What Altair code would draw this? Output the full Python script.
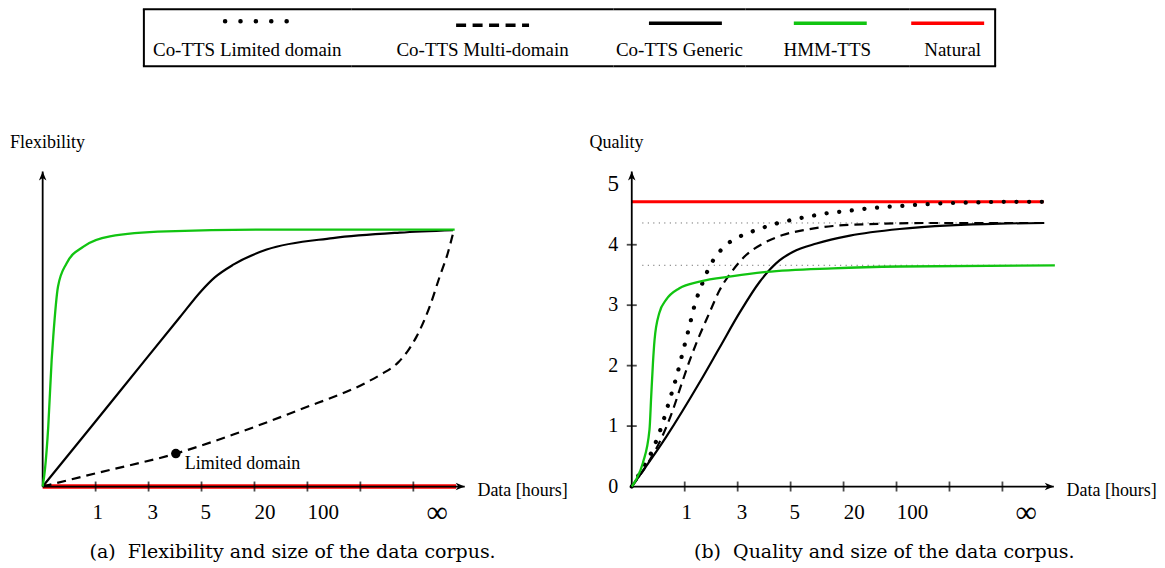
import altair as alt
import pandas as pd

# ------------------------------------------------------------------ data
LEGEND_LABELS = ["Co-TTS Limited domain", "Co-TTS Multi-domain", "Co-TTS Generic", "HMM-TTS", "Natural"]

X_TICKS = [1, 2, 3, 4, 5, 6, 7]
X_TICK_LABELS = ["1", "3", "5", "20", "100", "\u221e"]
X_TICK_LABEL_POS = [1.04, 2.08, 3.08, 4.2, 5.3, 7.45]
Q_TICKS = [1, 2, 3, 4]
Q_LABELS = [0, 1, 2, 3, 4, 5]

# (a) Flexibility panel
FLEX_HMM_U = [0, 0.043, 0.106, 0.17, 0.20, 0.29, 0.45, 0.77, 1.27, 2.34, 4.23, 7.78]
FLEX_HMM_Q = [0, 0.28, 1.0, 2.10, 2.48, 3.31, 3.69, 3.97, 4.14, 4.22, 4.25, 4.25]
FLEX_GEN_U = [0, 0.955, 1.96, 2.59, 3.0, 3.25, 3.60, 4.23, 5.48, 6.74, 7.75]
FLEX_GEN_Q = [0, 1.03, 2.12, 2.80, 3.24, 3.46, 3.67, 3.92, 4.11, 4.20, 4.24]
FLEX_MULTI_U = [0, 1.08, 2.515, 3.60, 4.85, 6.11, 6.4, 6.71, 6.9, 7.06, 7.31, 7.50, 7.65, 7.75]
FLEX_MULTI_Q = [0, 0.235, 0.545, 0.86, 1.27, 1.72, 1.86, 2.05, 2.25, 2.48, 2.98, 3.48, 3.86, 4.19]
FLEX_NAT_U = [0, 7.81]
FLEX_NAT_Q = [0, 0]
FLEX_POINT_U = [2.515]
FLEX_POINT_Q = [0.545]
FLEX_POINT_TEXT = ["Limited domain"]

# (b) Quality panel
QUAL_HMM_U = [0, 0.08, 0.21, 0.335, 0.367, 0.40, 0.43, 0.52, 0.65, 0.90, 1.28, 1.91, 2.54, 3.80, 5.06, 7.99]
QUAL_HMM_Q = [0, 0.11, 0.39, 0.94, 1.49, 2.04, 2.42, 2.87, 3.09, 3.28, 3.39, 3.48, 3.55, 3.61, 3.64, 3.66]
QUAL_LTD_U = [0, 0.15, 0.38, 0.555, 0.70, 0.84, 0.96, 1.08, 1.20, 1.28, 1.37, 1.47, 1.60, 1.76, 1.96,
              2.18, 2.41, 2.64, 2.87, 3.12, 3.36, 3.60, 4.08, 4.57, 5.06, 5.55, 6.04, 6.53, 7.01, 7.76]
QUAL_LTD_Q = [0, 0.22, 0.58, 0.975, 1.39, 1.80, 2.21, 2.62, 3.04, 3.24, 3.44, 3.64, 3.82, 3.98, 4.10,
              4.19, 4.26, 4.33, 4.38, 4.43, 4.47, 4.51, 4.56, 4.61, 4.64, 4.67, 4.69, 4.70, 4.71, 4.71]
QUAL_MULTI_U = [0, 0.3, 0.55, 0.75, 0.95, 1.10, 1.28, 1.47, 1.66, 1.91, 2.16, 2.48, 2.85, 3.30, 3.80, 4.43, 5.69, 7.77]
QUAL_MULTI_Q = [0, 0.38, 0.78, 1.20, 1.72, 2.10, 2.50, 2.88, 3.25, 3.58, 3.83, 4.02, 4.16, 4.25, 4.31, 4.34, 4.36, 4.36]
QUAL_GEN_U = [0, 0.65, 1.28, 1.66, 2.04, 2.41, 2.79, 3.04, 3.49, 4.12, 5.06, 6.01, 6.95, 7.79]
QUAL_GEN_Q = [0, 0.82, 1.72, 2.30, 2.88, 3.38, 3.74, 3.88, 4.02, 4.15, 4.26, 4.32, 4.35, 4.36]
QUAL_NAT_U = [0, 7.78]
QUAL_NAT_Q = [4.71, 4.71]
QUAL_GUIDE_Q = [4.36, 3.66]
QUAL_GUIDE_U0 = [0.2, 0.2]
QUAL_GUIDE_U1 = [7.78, 7.78]

AXIS_X_END = 7.97
AXIS_Q_END = 5.21

# ------------------------------------------------------------------ layout / style
SERIF = "Liberation Serif"
CAPTION_FONT = "DejaVu Serif"
GREEN = "#11c411"
RED = "#ff0000"

UX, UY = 53.0, 60.5
PANEL_H = 474
ORIGIN_FROM_BOTTOM = 73.3
LEFT_W, LEFT_ORIGIN = 580, 34.7
RIGHT_W, RIGHT_ORIGIN = 569, 44.3

Y_DOMAIN = [-ORIGIN_FROM_BOTTOM / UY, (PANEL_H - ORIGIN_FROM_BOTTOM) / UY]


def xdom(width, origin):
    return [-origin / UX, (width - origin) / UX]


def line_df(us, qs):
    return pd.DataFrame({"u": us, "q": qs})


def make_panel(width, origin, curves, extra_top, extra_bottom, title, caption, cap_u, show_q_axis):
    xs = alt.Scale(domain=xdom(width, origin), nice=False, zero=False)
    ys = alt.Scale(domain=Y_DOMAIN, nice=False, zero=False)
    X = lambda f="u": alt.X(f"{f}:Q", scale=xs, axis=None)
    Y = lambda f="q": alt.Y(f"{f}:Q", scale=ys, axis=None)

    layers = list(extra_bottom(X, Y))

    # axes
    ax_df = pd.DataFrame({"u": [0], "u1": [AXIS_X_END], "q": [0], "q1": [AXIS_Q_END]})
    layers.append(alt.Chart(ax_df).mark_rule(color="black", strokeWidth=1.8).encode(
        x=X(), x2=alt.X2("u1:Q"), y=Y()))
    layers.append(alt.Chart(ax_df).mark_rule(color="black", strokeWidth=1.8).encode(
        x=X(), y=Y(), y2=alt.Y2("q1:Q")))
    layers.append(alt.Chart(ax_df).mark_point(
        shape="M0,0L-1,-0.42L-0.72,0L-1,0.42Z", size=324, filled=True, color="black", opacity=1,
        strokeWidth=0).encode(x=X("u1"), y=Y()))
    layers.append(alt.Chart(ax_df).mark_point(
        shape="M0,0L-0.42,1L0,0.72L0.42,1Z", size=324, filled=True, color="black", opacity=1,
        strokeWidth=0).encode(x=X(), y=Y("q1")))

    # x ticks and labels
    layers.append(alt.Chart(pd.DataFrame({"u": X_TICKS, "q": 0})).mark_tick(
        orient="vertical", size=10, thickness=1.8, color="black").encode(x=X(), y=Y()))
    lab_df = pd.DataFrame({"u": X_TICK_LABEL_POS, "q": -0.435, "label": X_TICK_LABELS})
    layers.append(alt.Chart(lab_df).mark_text(font=SERIF, align="center", baseline="middle",
                                              color="black").encode(
        x=X(), y=Y(), text="label:N",
        size=alt.condition("datum.label == '\u221e'", alt.value(30), alt.value(21))))

    if show_q_axis:
        layers.append(alt.Chart(pd.DataFrame({"u": 0, "q": Q_TICKS})).mark_tick(
            orient="horizontal", size=10, thickness=1.8, color="black").encode(x=X(), y=Y()))
        ql = pd.DataFrame({"u": -0.35, "q": Q_LABELS, "label": [str(v) for v in Q_LABELS]})
        layers.append(alt.Chart(ql).mark_text(font=SERIF, align="center", baseline="middle",
                                              color="black").encode(
            x=X(), y=Y(), text="label:N",
            size=alt.condition("datum.q == 5", alt.value(23), alt.value(20))))

    # curves
    for df, style in curves:
        layers.append(alt.Chart(df).mark_line(interpolate="monotone", **style).encode(x=X(), y=Y()))

    layers += list(extra_top(X, Y))

    # titles
    t_df = pd.DataFrame({"u": [-(origin - 2) / UX], "q": [5.68], "label": [title]})
    layers.append(alt.Chart(t_df).mark_text(font=SERIF, fontSize=18, align="left", baseline="middle",
                                            color="black").encode(x=X(), y=Y(), text="label:N"))
    d_df = pd.DataFrame({"u": [8.21], "q": [-0.07], "label": ["Data [hours]"]})
    layers.append(alt.Chart(d_df).mark_text(font=SERIF, fontSize=18, align="left", baseline="middle",
                                            color="black").encode(x=X(), y=Y(), text="label:N"))
    c_df = pd.DataFrame({"u": [cap_u], "q": [-1.09], "label": [caption]})
    layers.append(alt.Chart(c_df).mark_text(font=CAPTION_FONT, fontSize=19, align="center",
                                            baseline="middle", color="black").encode(
        x=X(), y=Y(), text="label:N"))

    return alt.layer(*layers).properties(width=width, height=PANEL_H)


SOLID = dict(color="black", strokeWidth=2.2)
DASHED = dict(color="black", strokeWidth=2.2, strokeDash=[9, 6])
DOTTED = dict(color="black", strokeWidth=4.2, strokeDash=[0.1, 12.6], strokeCap="round")
GREENS = dict(color=GREEN, strokeWidth=2.3)


def left_bottom(X, Y):
    return [alt.Chart(line_df(FLEX_NAT_U, FLEX_NAT_Q)).mark_line(color=RED, strokeWidth=4.5).encode(
        x=X(), y=Y())]


def left_top(X, Y):
    pdf = pd.DataFrame({"u": FLEX_POINT_U, "q": FLEX_POINT_Q, "label": FLEX_POINT_TEXT})
    return [
        alt.Chart(pdf).mark_point(shape="circle", size=90, filled=True, color="black", opacity=1).encode(
            x=X(), y=Y()),
        alt.Chart(pdf).mark_text(font=SERIF, fontSize=18, align="left", baseline="middle", dx=9, dy=10,
                                 color="black").encode(x=X(), y=Y(), text="label:N"),
    ]


def right_bottom(X, Y):
    gdf = pd.DataFrame({"u": QUAL_GUIDE_U0, "u1": QUAL_GUIDE_U1, "q": QUAL_GUIDE_Q})
    return [
        alt.Chart(gdf).mark_rule(color="#555555", strokeWidth=1, strokeDash=[1, 4.5]).encode(
            x=X(), x2=alt.X2("u1:Q"), y=Y()),
        alt.Chart(line_df(QUAL_NAT_U, QUAL_NAT_Q)).mark_line(color=RED, strokeWidth=3).encode(
            x=X(), y=Y()),
    ]


def no_layers(X, Y):
    return []


left = make_panel(
    LEFT_W, LEFT_ORIGIN,
    [(line_df(FLEX_GEN_U, FLEX_GEN_Q), SOLID),
     (line_df(FLEX_MULTI_U, FLEX_MULTI_Q), DASHED),
     (line_df(FLEX_HMM_U, FLEX_HMM_Q), GREENS)],
    left_top, left_bottom, "Flexibility",
    "(a)\u00a0 Flexibility and size of the data corpus.", 4.72, False)

right = make_panel(
    RIGHT_W, RIGHT_ORIGIN,
    [(line_df(QUAL_GEN_U, QUAL_GEN_Q), SOLID),
     (line_df(QUAL_MULTI_U, QUAL_MULTI_Q), DASHED),
     (line_df(QUAL_LTD_U, QUAL_LTD_Q), DOTTED),
     (line_df(QUAL_HMM_U, QUAL_HMM_Q), GREENS)],
    no_layers, right_bottom, "Quality",
    "(b)\u00a0 Quality and size of the data corpus.", 4.77, True)

panels = alt.hconcat(left, right, spacing=0, bounds="flush").resolve_scale(x="independent", y="independent")

# ------------------------------------------------------------------ legend
LEG_H = 78
LEG_LEFT = 135
LEG_COL_W = [209, 262, 132, 164, 87]
LEG_STYLE = [
    dict(color="black", strokeWidth=4.5, strokeDash=[0.1, 15.3], strokeCap="round"),
    dict(color="black", strokeWidth=3.5, strokeDash=[10, 6.5]),
    dict(color="black", strokeWidth=3.3),
    dict(color=GREEN, strokeWidth=3.3),
    dict(color=RED, strokeWidth=3.3),
]
LEG_SYM_LEN = [76.5, 73, 73, 73, 73]
LEG_SYM_DX = [16, 10, 6, 3, -5]
LEG_SYM_Y = [13, 17, 15, 15, 15]
BOX_TOP, BOX_BOTTOM, LAB_Y = 1, 58, 42


def legend_col(i):
    w = LEG_COL_W[i]
    cx = w / 2
    base = alt.Chart(alt.Data(values=[{"label": LEGEND_LABELS[i]}]))
    half = LEG_SYM_LEN[i] / 2
    sx = cx + LEG_SYM_DX[i]
    layers = [
        base.mark_rule(**LEG_STYLE[i]).encode(x=alt.value(sx - half), x2=alt.value(sx + half),
                                              y=alt.value(LEG_SYM_Y[i])),
        base.mark_text(font=SERIF, fontSize=19, align="center", baseline="middle", color="black").encode(
            x=alt.value(cx), y=alt.value(LAB_Y), text="label:N"),
        base.mark_rule(color="black", strokeWidth=2).encode(x=alt.value(0), x2=alt.value(w), y=alt.value(BOX_TOP)),
        base.mark_rule(color="black", strokeWidth=2).encode(x=alt.value(0), x2=alt.value(w), y=alt.value(BOX_BOTTOM)),
    ]
    if i == 0:
        layers.append(base.mark_rule(color="black", strokeWidth=2).encode(
            x=alt.value(1), y=alt.value(BOX_TOP), y2=alt.value(BOX_BOTTOM)))
    if i == len(LEG_COL_W) - 1:
        layers.append(base.mark_rule(color="black", strokeWidth=2).encode(
            x=alt.value(w - 1), y=alt.value(BOX_TOP), y2=alt.value(BOX_BOTTOM)))
    return alt.layer(*layers).properties(width=w, height=LEG_H)


spacer = alt.Chart(alt.Data(values=[{}])).mark_rule(opacity=0).encode(
    x=alt.value(0), y=alt.value(0)).properties(width=LEG_LEFT, height=LEG_H)

legend_row = alt.hconcat(spacer, *[legend_col(i) for i in range(len(LEGEND_LABELS))],
                         spacing=0, bounds="flush")

chart = alt.vconcat(legend_row, panels, spacing=0, padding=0).configure_view(stroke=None)

chart.save("out.html", embed_options={"renderer": "svg", "actions": False})
